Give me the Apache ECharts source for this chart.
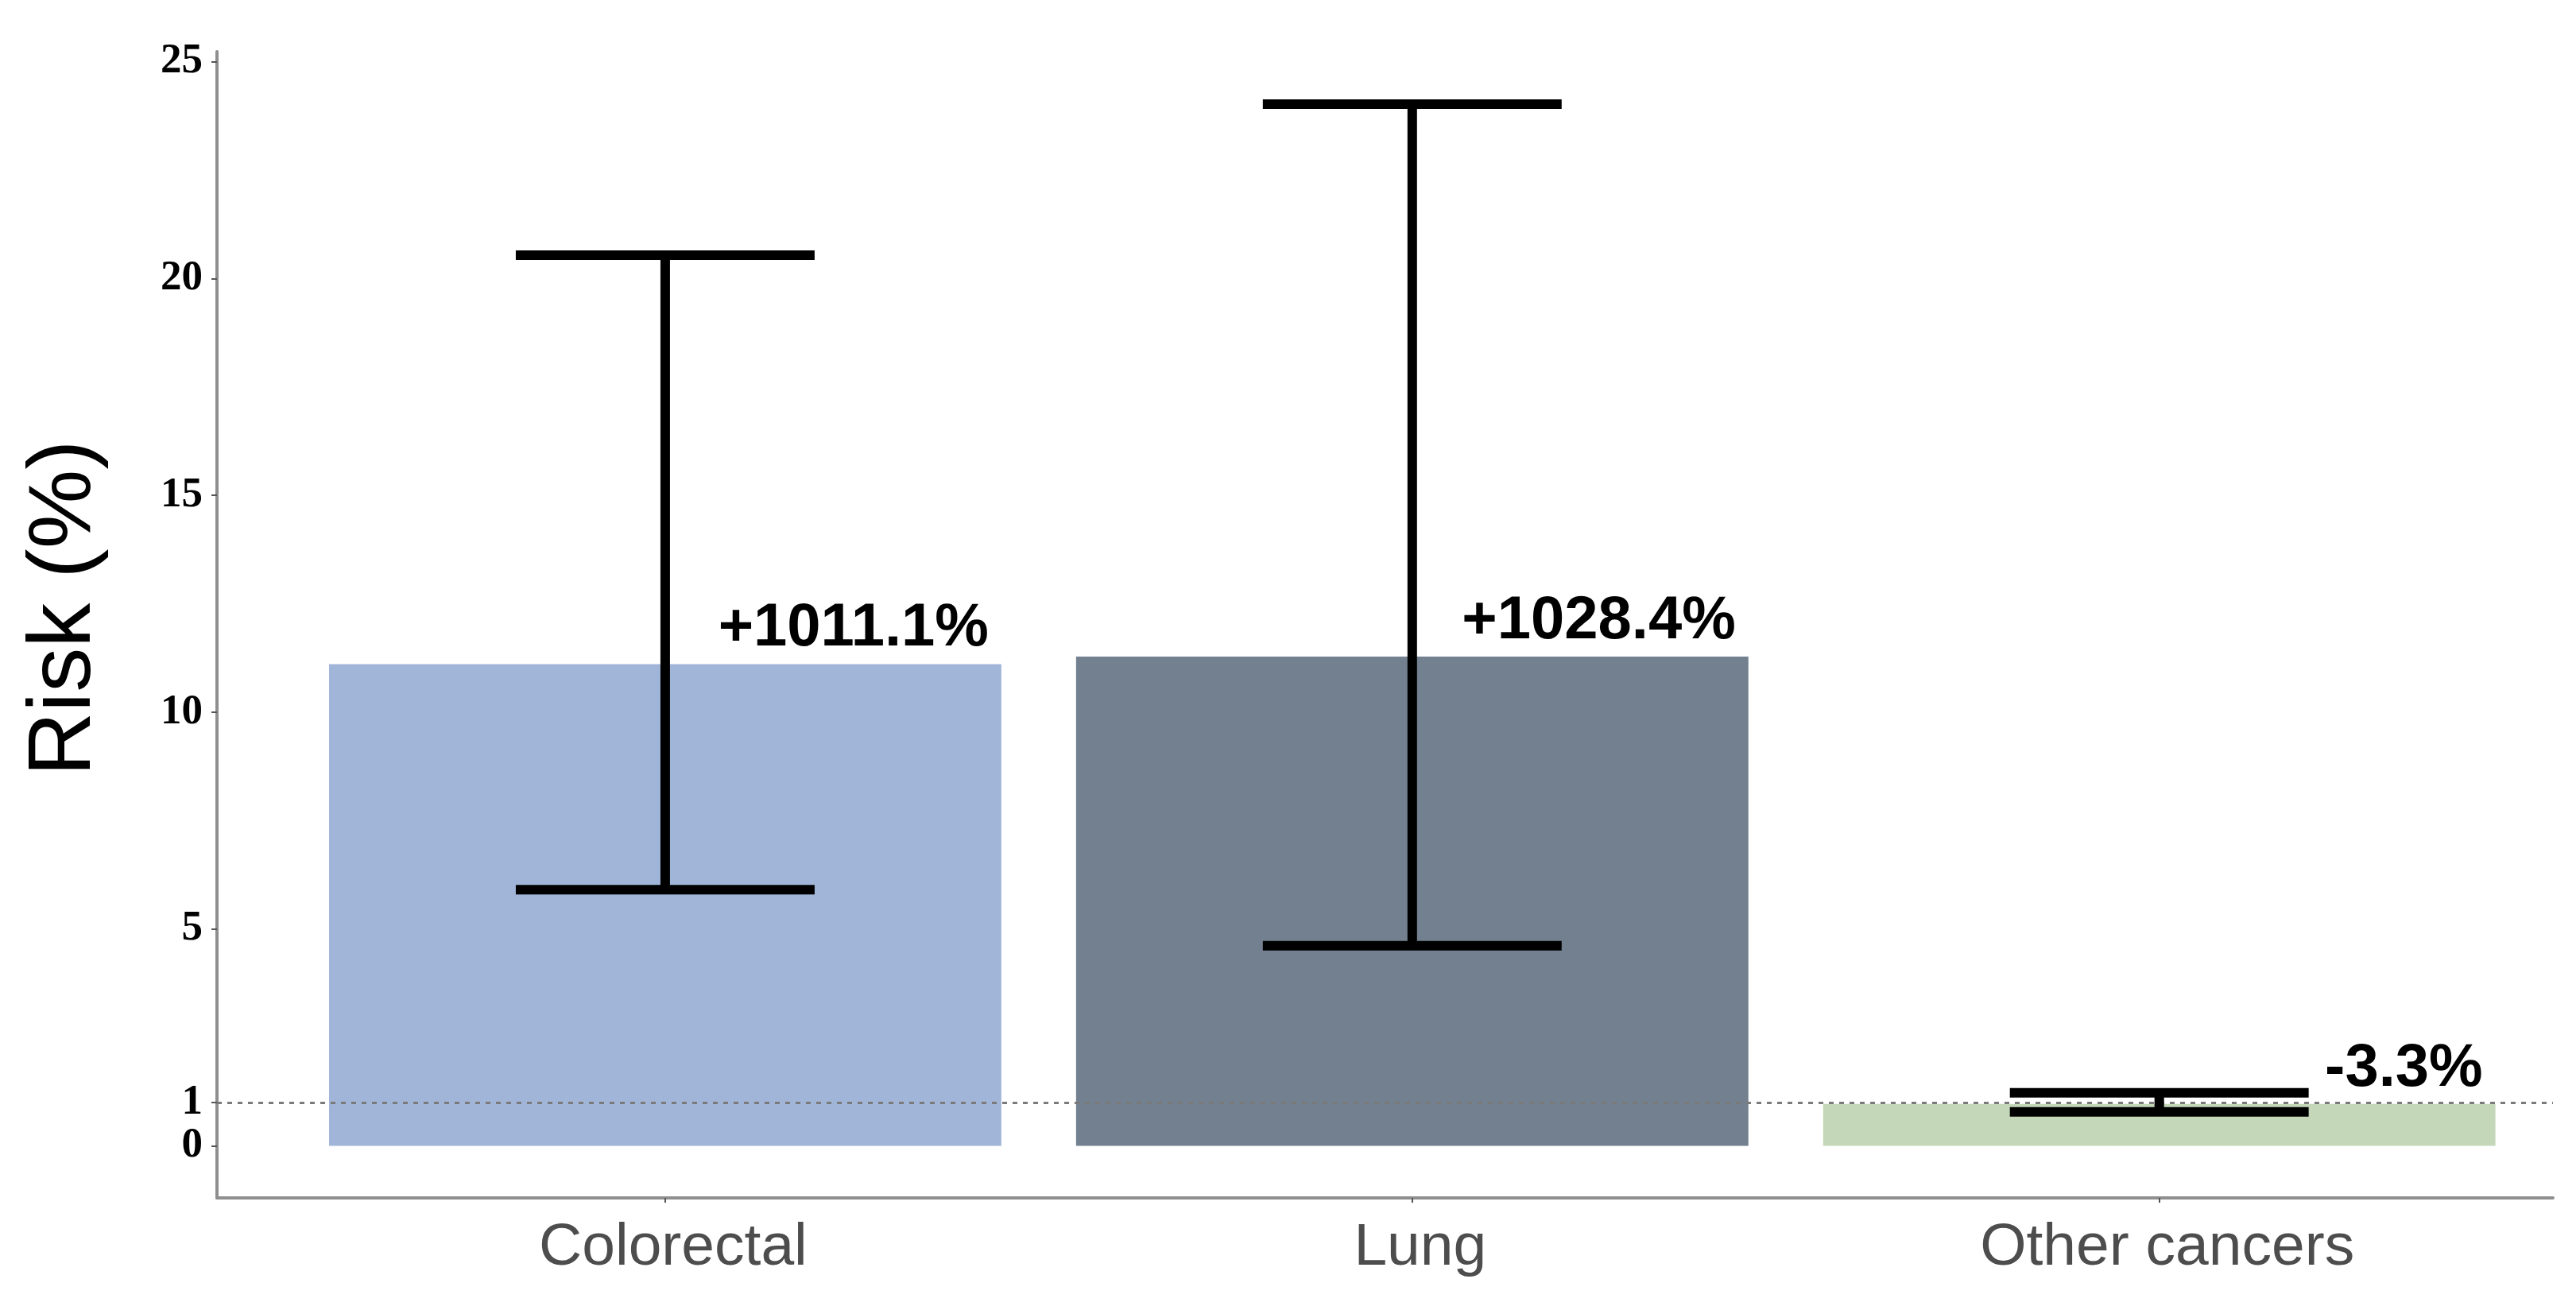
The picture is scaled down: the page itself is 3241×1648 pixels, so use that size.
<!DOCTYPE html>
<html><head><meta charset="utf-8">
<script src="https://cdn.jsdelivr.net/npm/echarts@6/dist/echarts.min.js"></script>
<style>html,body{margin:0;padding:0;background:#fff}#c{width:3241px;height:1648px}</style>
</head><body><div id="c"></div>
<script>
const categories = ['Colorectal', 'Lung', 'Other cancers'];
const risk = [11.11, 11.284, 0.967];
const ciLow = [5.905, 4.616, 0.783];
const ciHigh = [20.54, 24.02, 1.223];
const changeLabels = ['+1011.1%', '+1028.4%', '-3.3%'];
const yTicks = [0, 1, 5, 10, 15, 20, 25];
const xPositions = [1, 2, 3];
const barColors = ['#A1B5D8', '#72808F', '#C4D8B9'];
const refLine = 1;

const BAR_HALF = 0.45, CAP_HALF = 0.2, LABEL_DX = 0.433;

const chart = echarts.init(document.getElementById('c'), null, {renderer: 'canvas'});
const axisColor = '#8f8f8f';
chart.setOption({
  backgroundColor: '#ffffff',
  animation: false,
  grid: {left: 273, right: 29, top: 65, bottom: 141, containLabel: false},
  xAxis: {
    type: 'value', min: 0.4, max: 3.527,
    axisLine: {show: true, onZero: false, lineStyle: {color: axisColor, width: 4}},
    axisTick: {show: true, customValues: xPositions, length: 6, lineStyle: {color: '#555', width: 2}},
    axisLabel: {
      show: true, customValues: xPositions, margin: 26, padding: [0, 0, 0, 20],
      formatter: v => categories[Math.round(v) - 1] || '',
      color: '#4D4D4D', fontSize: 75, fontFamily: 'Liberation Sans, Arial, sans-serif'
    },
    splitLine: {show: false}
  },
  yAxis: {
    type: 'value', min: -1.2, max: 25.23,
    name: 'Risk (%)', nameLocation: 'middle', nameGap: 135, nameRotate: 90,
    nameTextStyle: {color: '#000', fontSize: 112, fontFamily: 'Liberation Sans, Arial, sans-serif', padding: [0, 0, 0, 42]},
    axisLine: {show: true, onZero: false, lineStyle: {color: axisColor, width: 4}},
    axisTick: {show: true, customValues: yTicks, length: 7, lineStyle: {color: '#555', width: 2}},
    axisLabel: {
      show: true, customValues: yTicks, margin: 18,
      color: '#000', fontSize: 53, fontWeight: 'bold', fontFamily: 'Liberation Serif, Times New Roman, serif'
    },
    splitLine: {show: false}
  },
  series: [
    {
      type: 'custom', name: 'bars', z: 2,
      data: xPositions.map((x, i) => [x, risk[i]]),
      renderItem: (params, api) => {
        const x = api.value(0), v = api.value(1);
        const p0 = api.coord([x - BAR_HALF, v]);
        const p1 = api.coord([x + BAR_HALF, 0]);
        return {type: 'rect', shape: {x: p0[0], y: p0[1], width: p1[0] - p0[0], height: p1[1] - p0[1]},
          style: {fill: barColors[params.dataIndex]}};
      },
      markLine: {
        silent: true, symbol: ['none', 'none'], label: {show: false}, z: 3,
        lineStyle: {color: '#7a7a7a', width: 3, type: [6, 7]},
        data: [{yAxis: refLine}]
      }
    },
    {
      type: 'custom', name: 'errorbars', z: 4,
      data: xPositions.map((x, i) => [x, ciLow[i], ciHigh[i]]),
      renderItem: (params, api) => {
        const x = api.value(0), lo = api.value(1), hi = api.value(2);
        const a = api.coord([x, lo]), b = api.coord([x, hi]);
        const l1 = api.coord([x - CAP_HALF, lo]), r1 = api.coord([x + CAP_HALF, lo]);
        const l2 = api.coord([x - CAP_HALF, hi]), r2 = api.coord([x + CAP_HALF, hi]);
        const st = {stroke: '#000', lineWidth: 12, lineCap: 'butt'};
        return {type: 'group', children: [
          {type: 'line', shape: {x1: a[0], y1: a[1], x2: b[0], y2: b[1]}, style: st},
          {type: 'line', shape: {x1: l1[0], y1: l1[1], x2: r1[0], y2: r1[1]}, style: st},
          {type: 'line', shape: {x1: l2[0], y1: l2[1], x2: r2[0], y2: r2[1]}, style: st}
        ]};
      }
    },
    {
      type: 'custom', name: 'labels', z: 5,
      data: xPositions.map((x, i) => [x, risk[i]]),
      renderItem: (params, api) => {
        const x = api.value(0), v = api.value(1);
        const p = api.coord([x + LABEL_DX, v]);
        return {type: 'text', x: p[0], y: p[1] - 6,
          style: {text: changeLabels[params.dataIndex], fill: '#000', align: 'right', verticalAlign: 'bottom',
            fontSize: 76, fontWeight: 'bold', fontFamily: 'Liberation Sans, Arial, sans-serif'}};
      }
    }
  ]
});
</script></body></html>
